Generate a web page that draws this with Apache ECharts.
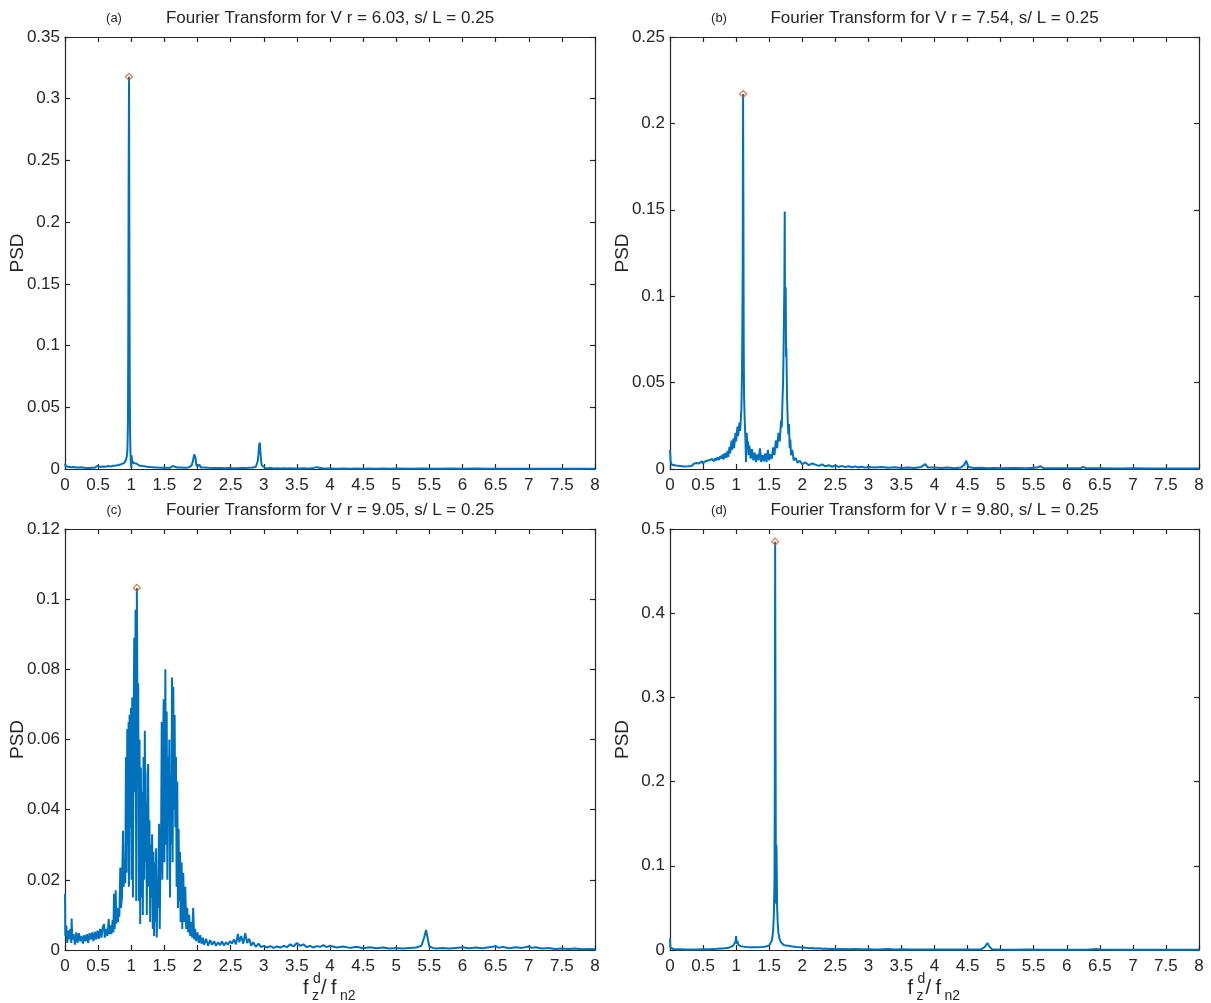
<!DOCTYPE html>
<html><head><meta charset="utf-8">
<script src="https://cdn.jsdelivr.net/npm/echarts@6/dist/echarts.min.js"></script>
<style>html,body{margin:0;padding:0;background:#fff}#c{width:1211px;height:1003px}</style>
</head><body><div id="c"></div>
<script>
// ---- data: [f/fn2, PSD] ----
const spectrumA = [[0,0.0045],[0.01,0.0022],[0.03,0.0012],[0.05,0.0018],[0.07,0.0008],[0.09,0.0014],[0.11,0.0007],[0.13,0.0016],[0.15,0.0009],[0.17,0.0012],[0.19,0.0006],[0.21,0.0013],[0.23,0.0008],[0.25,0.0015],[0.27,0.0007],[0.29,0.0011],[0.31,0.0018],[0.33,0.0009],[0.35,0.0014],[0.37,0.0008],[0.39,0.0016],[0.41,0.001],[0.43,0.0019],[0.45,0.0011],[0.47,0.0015],[0.49,0.0025],[0.51,0.0012],[0.53,0.0017],[0.55,0.001],[0.57,0.0021],[0.59,0.0014],[0.61,0.0018],[0.63,0.0011],[0.65,0.0024],[0.67,0.0016],[0.69,0.0021],[0.71,0.0014],[0.73,0.0026],[0.75,0.0018],[0.77,0.0029],[0.79,0.0021],[0.81,0.0033],[0.83,0.0025],[0.85,0.0039],[0.87,0.003],[0.89,0.0048],[0.9,0.0038],[0.91,0.0058],[0.92,0.0072],[0.93,0.0095],[0.94,0.0135],[0.945,0.022],[0.95,0.038],[0.955,0.1],[0.96,0.22],[0.966,0.3177],[0.972,0.18],[0.977,0.07],[0.982,0.03],[0.988,0.014],[0.995,0.004],[1.0,0.0008],[1.005,0.011],[1.01,0.0075],[1.02,0.0062],[1.03,0.0048],[1.045,0.0055],[1.06,0.0038],[1.075,0.0045],[1.09,0.0032],[1.105,0.004],[1.12,0.0028],[1.14,0.0036],[1.16,0.0024],[1.18,0.0031],[1.2,0.0022],[1.22,0.0028],[1.24,0.0018],[1.26,0.0026],[1.28,0.0016],[1.3,0.0023],[1.32,0.0015],[1.34,0.0021],[1.36,0.0013],[1.38,0.0019],[1.4,0.0012],[1.43,0.0018],[1.46,0.0011],[1.49,0.0016],[1.52,0.001],[1.55,0.0015],[1.58,0.0009],[1.61,0.0014],[1.63,0.0024],[1.65,0.001],[1.68,0.0013],[1.71,0.0008],[1.74,0.0012],[1.77,0.0008],[1.8,0.0011],[1.83,0.0007],[1.86,0.0012],[1.89,0.0016],[1.91,0.0028],[1.93,0.0062],[1.95,0.0118],[1.96,0.0128],[1.97,0.009],[1.98,0.0042],[1.99,0.0022],[2.01,0.0016],[2.03,0.0034],[2.05,0.0012],[2.08,0.0009],[2.11,0.0012],[2.14,0.0007],[2.17,0.001],[2.2,0.0006],[2.23,0.0009],[2.26,0.0006],[2.29,0.0008],[2.32,0.0005],[2.35,0.0008],[2.38,0.0005],[2.41,0.0007],[2.44,0.0005],[2.47,0.0008],[2.5,0.0005],[2.53,0.0007],[2.56,0.0005],[2.59,0.0007],[2.62,0.0006],[2.65,0.0008],[2.68,0.0006],[2.71,0.0009],[2.74,0.0007],[2.77,0.001],[2.8,0.0008],[2.83,0.0012],[2.86,0.001],[2.88,0.0016],[2.9,0.003],[2.91,0.0065],[2.92,0.012],[2.93,0.019],[2.94,0.0215],[2.95,0.014],[2.96,0.0065],[2.97,0.003],[2.99,0.0014],[3.02,0.0009],[3.06,0.0006],[3.1,0.0008],[3.15,0.0005],[3.2,0.0007],[3.25,0.0004],[3.3,0.0006],[3.35,0.0004],[3.4,0.0006],[3.45,0.0004],[3.5,0.0005],[3.55,0.0004],[3.6,0.0006],[3.65,0.0004],[3.7,0.0005],[3.75,0.0009],[3.8,0.0015],[3.83,0.0006],[3.9,0.0004],[4.0,0.0005],[4.1,0.0003],[4.2,0.0004],[4.3,0.0003],[4.4,0.0004],[4.5,0.0003],[4.6,0.0004],[4.7,0.0003],[4.8,0.0004],[4.9,0.0003],[5.0,0.0004],[5.2,0.0003],[5.4,0.0004],[5.6,0.0003],[5.8,0.0004],[6.0,0.0003],[6.2,0.0004],[6.4,0.0003],[6.6,0.0003],[6.8,0.0002],[7.0,0.0003],[7.2,0.0002],[7.4,0.0003],[7.6,0.0002],[7.8,0.0002],[8.0,0.0002]];

const spectrumB = [[0,0.011],[0.01,0.004],[0.03,0.0025],[0.06,0.003],[0.09,0.002],[0.12,0.0028],[0.15,0.0018],[0.18,0.0025],[0.21,0.0015],[0.24,0.0022],[0.27,0.0016],[0.3,0.0024],[0.33,0.0018],[0.36,0.003],[0.38,0.0022],[0.4,0.0035],[0.42,0.0025],[0.44,0.0032],[0.46,0.0028],[0.48,0.0045],[0.5,0.003],[0.52,0.0042],[0.54,0.0035],[0.56,0.0048],[0.58,0.0038],[0.6,0.0052],[0.62,0.0042],[0.64,0.0058],[0.66,0.0045],[0.68,0.0062],[0.7,0.005],[0.72,0.0068],[0.74,0.0052],[0.76,0.0075],[0.78,0.006],[0.8,0.0085],[0.81,0.0055],[0.83,0.0092],[0.85,0.0065],[0.87,0.0105],[0.88,0.007],[0.9,0.0128],[0.91,0.009],[0.93,0.0165],[0.94,0.011],[0.96,0.0178],[0.97,0.012],[0.99,0.021],[1.0,0.016],[1.02,0.0245],[1.03,0.019],[1.05,0.0268],[1.06,0.022],[1.07,0.028],[1.08,0.035],[1.09,0.058],[1.1,0.12],[1.105,0.217],[1.11,0.15],[1.115,0.07],[1.12,0.042],[1.13,0.028],[1.14,0.018],[1.15,0.004],[1.16,0.021],[1.17,0.012],[1.18,0.016],[1.19,0.008],[1.2,0.0135],[1.22,0.006],[1.24,0.0115],[1.26,0.005],[1.28,0.0095],[1.3,0.004],[1.32,0.0085],[1.34,0.005],[1.36,0.012],[1.38,0.004],[1.4,0.0082],[1.42,0.0045],[1.44,0.009],[1.46,0.004],[1.48,0.011],[1.5,0.005],[1.52,0.0085],[1.54,0.006],[1.56,0.0125],[1.58,0.008],[1.6,0.0165],[1.62,0.012],[1.64,0.021],[1.66,0.016],[1.68,0.028],[1.69,0.024],[1.7,0.038],[1.71,0.05],[1.72,0.075],[1.73,0.108],[1.735,0.149],[1.74,0.09],[1.75,0.105],[1.755,0.065],[1.76,0.07],[1.77,0.042],[1.78,0.028],[1.79,0.02],[1.8,0.026],[1.81,0.012],[1.82,0.017],[1.83,0.008],[1.85,0.011],[1.87,0.005],[1.9,0.0065],[1.93,0.0035],[1.96,0.0048],[2.0,0.0028],[2.05,0.0038],[2.1,0.0022],[2.15,0.0032],[2.2,0.0025],[2.25,0.0018],[2.3,0.0027],[2.35,0.0015],[2.4,0.0022],[2.45,0.0013],[2.5,0.002],[2.55,0.0012],[2.6,0.0018],[2.65,0.0011],[2.7,0.0016],[2.75,0.001],[2.8,0.0015],[2.85,0.0009],[2.9,0.0013],[2.95,0.0008],[3.0,0.0012],[3.1,0.0008],[3.2,0.0011],[3.3,0.0007],[3.4,0.001],[3.5,0.0006],[3.6,0.0009],[3.7,0.0006],[3.8,0.0012],[3.86,0.0028],[3.9,0.0008],[4.0,0.0009],[4.1,0.0006],[4.2,0.0008],[4.3,0.0005],[4.4,0.0008],[4.45,0.0025],[4.48,0.0048],[4.51,0.0012],[4.6,0.0006],[4.7,0.0007],[4.8,0.0005],[4.9,0.0006],[5.0,0.0004],[5.2,0.0006],[5.4,0.0004],[5.55,0.0008],[5.6,0.0016],[5.65,0.0005],[5.8,0.0004],[6.0,0.0005],[6.2,0.0004],[6.25,0.0012],[6.3,0.0004],[6.5,0.0004],[6.8,0.0003],[7.0,0.0004],[7.3,0.0003],[7.6,0.0003],[8,0.0003]];

const spectrumC = [[0,0.016],[0.005,0.004],[0.02,0.007],[0.035,0.002],[0.05,0.0055],[0.065,0.003],[0.08,0.006],[0.095,0.002],[0.1,0.009],[0.11,0.003],[0.13,0.0045],[0.15,0.0015],[0.17,0.005],[0.19,0.002],[0.21,0.0048],[0.23,0.0025],[0.25,0.004],[0.27,0.0018],[0.29,0.0042],[0.31,0.0025],[0.33,0.0045],[0.35,0.002],[0.37,0.0048],[0.39,0.003],[0.41,0.005],[0.43,0.0025],[0.45,0.0052],[0.47,0.003],[0.49,0.0055],[0.51,0.0032],[0.53,0.006],[0.55,0.0035],[0.57,0.0065],[0.59,0.0074],[0.6,0.0035],[0.62,0.006],[0.64,0.004],[0.66,0.0088],[0.67,0.0045],[0.69,0.007],[0.7,0.0045],[0.72,0.0085],[0.73,0.005],[0.74,0.016],[0.75,0.006],[0.765,0.017],[0.775,0.0075],[0.79,0.012],[0.8,0.008],[0.81,0.0115],[0.82,0.0095],[0.835,0.0235],[0.845,0.012],[0.86,0.015],[0.875,0.034],[0.885,0.018],[0.9,0.026],[0.91,0.019],[0.92,0.055],[0.93,0.022],[0.94,0.063],[0.95,0.03],[0.96,0.065],[0.965,0.018],[0.975,0.067],[0.985,0.035],[0.995,0.069],[1.005,0.02],[1.015,0.072],[1.025,0.015],[1.035,0.06],[1.045,0.089],[1.055,0.045],[1.065,0.097],[1.075,0.014],[1.085,0.1032],[1.095,0.06],[1.105,0.076],[1.115,0.014],[1.125,0.06],[1.135,0.0074],[1.145,0.052],[1.155,0.015],[1.165,0.045],[1.175,0.01],[1.185,0.055],[1.195,0.02],[1.205,0.0625],[1.215,0.025],[1.225,0.042],[1.235,0.01],[1.245,0.05],[1.255,0.053],[1.265,0.018],[1.275,0.037],[1.285,0.008],[1.295,0.03],[1.305,0.015],[1.315,0.033],[1.325,0.006],[1.335,0.028],[1.345,0.004],[1.355,0.025],[1.365,0.008],[1.375,0.029],[1.385,0.0036],[1.395,0.02],[1.405,0.012],[1.42,0.036],[1.43,0.006],[1.44,0.025],[1.45,0.03],[1.46,0.065],[1.47,0.02],[1.48,0.059],[1.49,0.0715],[1.5,0.025],[1.51,0.06],[1.515,0.08],[1.525,0.03],[1.535,0.068],[1.545,0.02],[1.555,0.055],[1.565,0.04],[1.575,0.06],[1.585,0.015],[1.595,0.05],[1.605,0.03],[1.615,0.0777],[1.625,0.025],[1.635,0.075],[1.645,0.04],[1.655,0.067],[1.665,0.035],[1.675,0.055],[1.685,0.018],[1.695,0.048],[1.705,0.012],[1.715,0.0345],[1.725,0.014],[1.735,0.028],[1.745,0.008],[1.76,0.025],[1.77,0.006],[1.785,0.022],[1.8,0.008],[1.815,0.018],[1.83,0.006],[1.845,0.012],[1.86,0.005],[1.875,0.01],[1.89,0.004],[1.905,0.008],[1.92,0.0035],[1.935,0.012],[1.95,0.003],[1.965,0.006],[1.98,0.0025],[2.0,0.005],[2.02,0.002],[2.04,0.0042],[2.06,0.0018],[2.08,0.0035],[2.1,0.0015],[2.13,0.0032],[2.16,0.0012],[2.19,0.0028],[2.22,0.0015],[2.25,0.0025],[2.28,0.0012],[2.31,0.0022],[2.34,0.0014],[2.37,0.0024],[2.4,0.0013],[2.43,0.0022],[2.46,0.0015],[2.49,0.0025],[2.52,0.0018],[2.55,0.003],[2.58,0.0016],[2.61,0.0046],[2.63,0.0022],[2.66,0.004],[2.69,0.0018],[2.72,0.0048],[2.75,0.002],[2.78,0.0032],[2.81,0.0012],[2.84,0.0022],[2.88,0.0009],[2.92,0.0018],[2.96,0.0008],[3.0,0.0012],[3.05,0.0007],[3.1,0.0011],[3.15,0.0006],[3.2,0.001],[3.25,0.0007],[3.3,0.0012],[3.35,0.0008],[3.4,0.0016],[3.45,0.001],[3.5,0.002],[3.55,0.0012],[3.6,0.0016],[3.65,0.0008],[3.7,0.0012],[3.75,0.0007],[3.8,0.0011],[3.85,0.0009],[3.9,0.0014],[3.95,0.0008],[4.0,0.0012],[4.1,0.0007],[4.2,0.001],[4.3,0.0006],[4.4,0.0009],[4.5,0.0005],[4.6,0.0008],[4.7,0.0005],[4.8,0.0007],[4.9,0.0004],[5.0,0.0006],[5.1,0.0004],[5.2,0.0006],[5.3,0.0007],[5.38,0.0012],[5.42,0.0035],[5.45,0.0057],[5.48,0.0028],[5.5,0.001],[5.55,0.0006],[5.6,0.0004],[5.7,0.0006],[5.8,0.0004],[5.9,0.0006],[6.0,0.0008],[6.1,0.0005],[6.2,0.0007],[6.3,0.0005],[6.4,0.0008],[6.5,0.0011],[6.55,0.0006],[6.6,0.0009],[6.7,0.0005],[6.8,0.0008],[6.9,0.0006],[7.0,0.001],[7.05,0.0006],[7.1,0.0008],[7.2,0.0004],[7.3,0.0006],[7.4,0.0003],[7.5,0.0004],[7.6,0.0003],[7.7,0.0004],[7.8,0.0002],[7.9,0.0003],[8,0.0002]];

const spectrumD = [[0,0.014],[0.005,0.003],[0.02,0.0018],[0.05,0.0012],[0.08,0.0016],[0.11,0.0009],[0.14,0.0013],[0.17,0.0008],[0.2,0.0012],[0.23,0.0007],[0.26,0.0011],[0.29,0.0007],[0.32,0.001],[0.35,0.0006],[0.38,0.0011],[0.41,0.0007],[0.44,0.0012],[0.47,0.0008],[0.5,0.0013],[0.53,0.0009],[0.56,0.0015],[0.59,0.001],[0.62,0.0017],[0.65,0.0012],[0.68,0.002],[0.71,0.0014],[0.74,0.0024],[0.77,0.0018],[0.8,0.0028],[0.83,0.0022],[0.86,0.0034],[0.89,0.0028],[0.92,0.0042],[0.95,0.0048],[0.97,0.0065],[0.99,0.0095],[1.0,0.0165],[1.01,0.0075],[1.02,0.0105],[1.035,0.006],[1.05,0.0072],[1.07,0.0045],[1.09,0.0055],[1.11,0.004],[1.13,0.005],[1.15,0.0035],[1.18,0.0044],[1.21,0.0033],[1.24,0.0042],[1.27,0.0032],[1.3,0.0041],[1.33,0.0034],[1.36,0.0045],[1.39,0.0036],[1.42,0.005],[1.45,0.0042],[1.48,0.0062],[1.5,0.0055],[1.52,0.0085],[1.54,0.011],[1.55,0.016],[1.56,0.024],[1.57,0.04],[1.58,0.08],[1.585,0.2],[1.59,0.485],[1.595,0.3],[1.6,0.12],[1.605,0.055],[1.61,0.125],[1.615,0.09],[1.62,0.05],[1.63,0.03],[1.64,0.02],[1.655,0.014],[1.67,0.0105],[1.69,0.008],[1.71,0.0065],[1.73,0.0055],[1.76,0.0045],[1.79,0.005],[1.82,0.0038],[1.85,0.0042],[1.88,0.0032],[1.91,0.0036],[1.94,0.0028],[1.97,0.0032],[2.0,0.0025],[2.05,0.0028],[2.1,0.002],[2.15,0.0023],[2.2,0.0017],[2.25,0.002],[2.3,0.0014],[2.35,0.0017],[2.4,0.0012],[2.45,0.0015],[2.5,0.001],[2.6,0.0013],[2.7,0.0009],[2.8,0.0011],[2.9,0.0008],[3.0,0.001],[3.1,0.0007],[3.2,0.0009],[3.3,0.0012],[3.4,0.0007],[3.5,0.0008],[3.6,0.0006],[3.7,0.0007],[3.8,0.0005],[3.9,0.0007],[4.0,0.0005],[4.2,0.0006],[4.4,0.0005],[4.6,0.0006],[4.7,0.0008],[4.76,0.0035],[4.8,0.0082],[4.83,0.004],[4.87,0.0009],[5.0,0.0005],[5.2,0.0004],[5.4,0.0005],[5.6,0.0004],[5.8,0.0004],[6.0,0.0003],[6.3,0.0004],[6.45,0.0012],[6.5,0.0005],[6.7,0.0003],[7.0,0.0003],[7.5,0.0003],[8,0.0002]];

const panelTags = ['(a)', '(b)', '(c)', '(d)'];
const velocityRatios = ['6.03', '7.54', '9.05', '9.80'];
const yMaxes = [0.35, 0.25, 0.12, 0.5];
const ySteps = [0.05, 0.05, 0.02, 0.1];
const xTickStep = 0.5;
const xMax = 8;
const spectra = [spectrumA, spectrumB, spectrumC, spectrumD];

// ---- layout / style ----
const FONT = '"Liberation Sans", Arial, sans-serif';
const INK = '#262626';
const LINE = '#0072BD';
const MARK = '#D95319';
const grids = [
  {left: 65, top: 37, width: 530, height: 432},
  {left: 670, top: 37, width: 529, height: 432},
  {left: 65, top: 529, width: 530, height: 421},
  {left: 670, top: 529, width: 529, height: 421}
];

const chart = echarts.init(document.getElementById('c'), null, {renderer: 'canvas'});
const xAxes = [], yAxes = [], series = [], graphic = [];
const axLine = {show: true, onZero: false, lineStyle: {color: INK, width: 1.2}};
const axTick = {show: true, inside: true, length: 5, lineStyle: {color: INK, width: 1.2}};

grids.forEach((g, i) => {
  xAxes.push({gridIndex: i, type: 'value', min: 0, max: xMax, interval: xTickStep, position: 'bottom',
    axisLine: axLine, axisTick: axTick, splitLine: {show: false},
    axisLabel: {fontSize: 17, color: INK, fontFamily: FONT, margin: 8}});
  xAxes.push({gridIndex: i, type: 'value', min: 0, max: xMax, interval: xTickStep, position: 'top',
    axisLine: axLine, axisTick: axTick, splitLine: {show: false}, axisLabel: {show: false}});
  yAxes.push({gridIndex: i, type: 'value', min: 0, max: yMaxes[i], interval: ySteps[i], position: 'left',
    axisLine: axLine, axisTick: axTick, splitLine: {show: false},
    axisLabel: {fontSize: 17, color: INK, fontFamily: FONT, margin: 5},
    name: 'PSD', nameLocation: 'middle', nameGap: 38, nameRotate: 90, nameMoveOverlap: false,
    nameTextStyle: {fontSize: 19, color: INK, fontFamily: FONT}});
  yAxes.push({gridIndex: i, type: 'value', min: 0, max: yMaxes[i], interval: ySteps[i], position: 'right',
    axisLine: axLine, axisTick: axTick, splitLine: {show: false}, axisLabel: {show: false}});

  const data = spectra[i];
  series.push({type: 'line', xAxisIndex: 2 * i, yAxisIndex: 2 * i, data: data, showSymbol: false,
    symbol: 'none', lineStyle: {color: LINE, width: 2}, animation: false, z: 2});
  let peak = data[0];
  data.forEach(p => { if (p[1] > peak[1]) peak = p; });
  series.push({type: 'scatter', xAxisIndex: 2 * i, yAxisIndex: 2 * i, data: [peak], symbol: 'diamond',
    symbolSize: 7, itemStyle: {color: 'rgba(0,0,0,0)', borderColor: MARK, borderWidth: 1.2},
    animation: false, z: 5});

  const cx = g.left + g.width / 2;
  const ty = g.top - 19;
  graphic.push({type: 'text', x: cx, y: ty, style: {text: 'Fourier Transform for V r = ' + velocityRatios[i] + ', s/ L = 0.25',
    fontSize: 17, fontFamily: FONT, fill: INK, textAlign: 'center', textVerticalAlign: 'middle'}});
  graphic.push({type: 'text', x: g.left + 49, y: ty, style: {text: panelTags[i],
    fontSize: 13, fontFamily: FONT, fill: INK, textAlign: 'center', textVerticalAlign: 'middle'}});

  if (i >= 2) {
    const by = g.top + g.height + 48;
    const parts = [
      {t: 'f', dx: -27, dy: 0, s: 20},
      {t: 'z', dx: -18, dy: 5, s: 14},
      {t: 'd', dx: -17, dy: -12, s: 14},
      {t: '/', dx: -9, dy: 0, s: 20},
      {t: 'f', dx: 1, dy: 0, s: 20},
      {t: 'n2', dx: 10, dy: 5, s: 14}
    ];
    parts.forEach(p => graphic.push({type: 'text', x: cx + p.dx, y: by + p.dy, style: {text: p.t,
      fontSize: p.s, fontFamily: FONT, fill: INK, textAlign: 'left', textVerticalAlign: 'bottom'}}));
  }
});

chart.setOption({
  animation: false,
  backgroundColor: '#fff',
  grid: grids,
  xAxis: xAxes,
  yAxis: yAxes,
  series: series,
  graphic: graphic
});
</script>
</body></html>
